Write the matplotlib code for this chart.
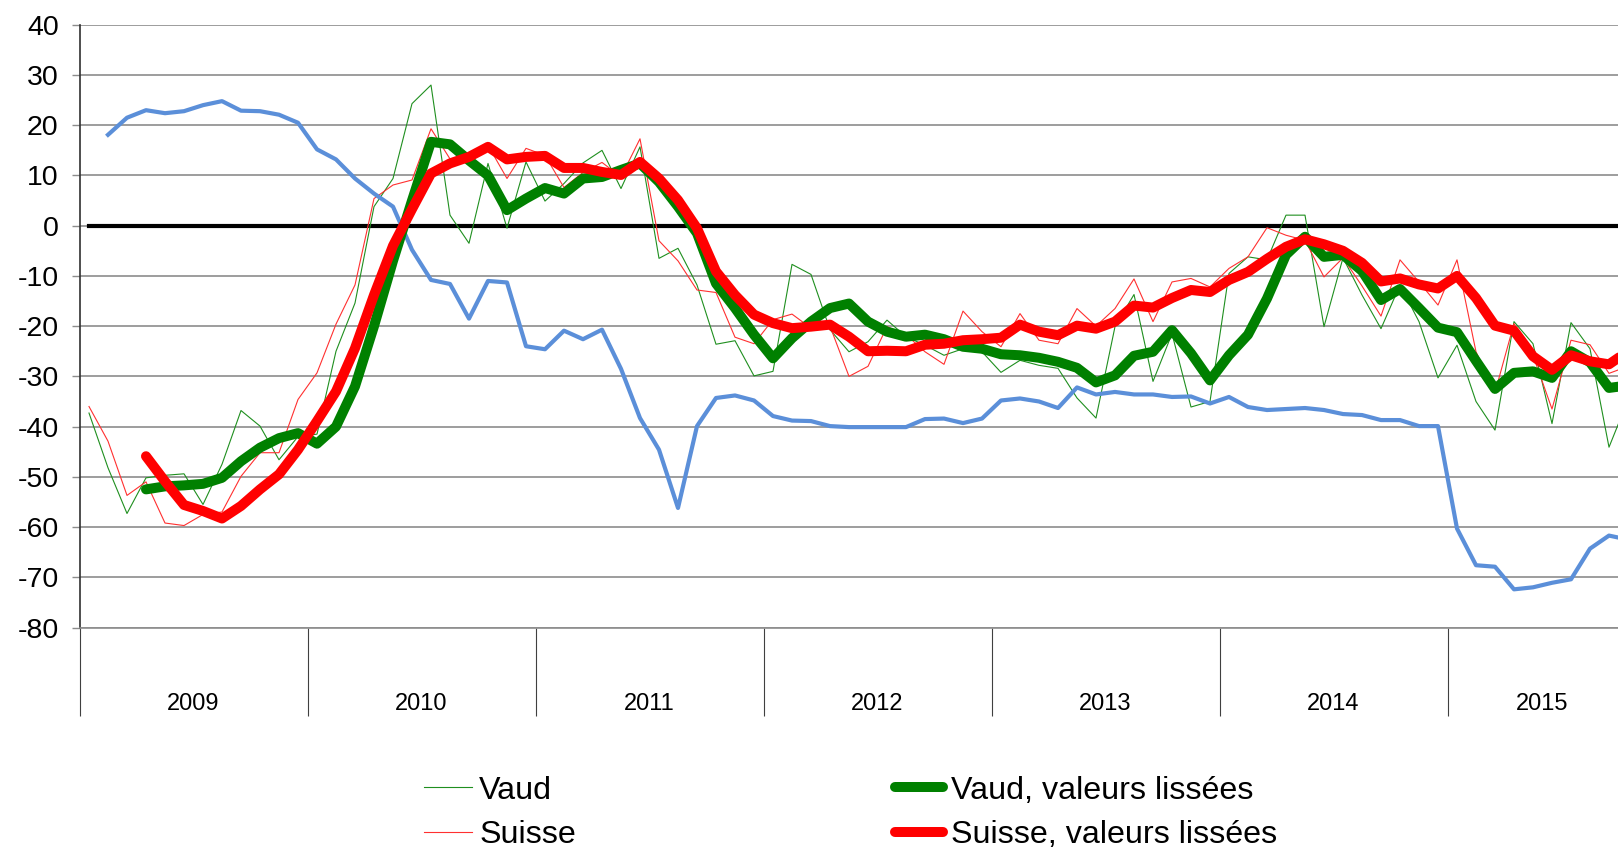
import numpy as np
import matplotlib
matplotlib.use("Agg")
import matplotlib.pyplot as plt

plt.rcParams['font.family'] = ['Liberation Sans', 'DejaVu Sans']
plt.rcParams['axes.unicode_minus'] = False

nan = np.nan

# monthly categories, Jan 2009 .. Oct 2015
years = ['2009', '2010', '2011', '2012', '2013', '2014', '2015']
months_per_year = [12, 12, 12, 12, 12, 12, 10]
months = np.arange(sum(months_per_year))

vaud = [-37.3, -48.2, -57.3, -50.2, -49.7, -49.4, -55.5, -47.5, -36.8, -39.9,
        -46.6, -42.0, -41.5, -25.0, -15.4, 3.8, 9.4, 24.3, 28.0, 2.1,
        -3.5, 12.4, -0.5, 12.7, 4.9, 8.4, 12.5, 15.0, 7.4, 15.7,
        -6.5, -4.5, -11.8, -23.6, -22.9, -29.9, -29.0, -7.7, -9.7, -20.7,
        -25.1, -23.1, -18.8, -22.1, -23.8, -25.8, -24.5, -25.1, -29.2, -26.8,
        -27.8, -28.4, -34.3, -38.3, -20.1, -13.7, -31.0, -21.5, -36.1, -35.0,
        -9.5, -6.2, -6.8, 2.1, 2.1, -20.1, -6.4, -13.8, -20.5, -11.8,
        -19.1, -30.3, -23.8, -35.0, -40.7, -19.1, -23.5, -39.4, -19.3, -24.5,
        -44.1, -34.7]

suisse = [-36.0, -42.9, -53.7, -51.0, -59.2, -59.7, -57.5, -57.0, -49.9, -45.2,
          -45.2, -34.6, -29.3, -19.6, -11.8, 5.4, 8.1, 9.1, 19.3, 13.3,
          14.0, 16.0, 9.4, 15.4, 14.0, 7.6, 10.6, 12.6, 9.7, 17.3,
          -3.0, -7.0, -12.8, -13.3, -22.2, -23.5, -18.7, -17.6, -20.4, -20.0,
          -30.0, -28.0, -20.1, -21.7, -25.1, -27.6, -17.0, -21.1, -24.1, -17.5,
          -22.8, -23.5, -16.5, -20.0, -16.5, -10.6, -19.1, -11.2, -10.5, -12.2,
          -8.5, -6.2, -0.4, -1.9, -2.9, -10.2, -6.4, -12.0, -18.0, -6.8,
          -11.2, -15.8, -6.8, -25.1, -33.2, -19.5, -25.8, -36.5, -22.8, -23.7,
          -29.4, -28.0]

vaud_lisse = [nan, nan, nan, -52.5, -51.9, -51.7, -51.4, -50.2, -46.9, -44.2,
              -42.3, -41.3, -43.4, -40.0, -32.0, -20.0, -7.0, 5.0, 16.7, 16.2,
              13.0, 10.0, 3.1, 5.4, 7.5, 6.4, 9.4, 9.7, 11.1, 12.4,
              8.7, 3.8, -1.5, -11.5, -16.4, -21.7, -26.4, -22.4, -19.1, -16.4,
              -15.5, -19.1, -21.1, -22.1, -21.7, -22.6, -24.1, -24.5, -25.6, -25.8,
              -26.3, -27.1, -28.3, -31.2, -29.8, -25.9, -25.1, -20.8, -25.4, -30.8,
              -25.8, -21.7, -14.5, -5.8, -2.2, -6.2, -5.8, -9.0, -14.8, -12.6,
              -16.4, -20.3, -21.2, -26.9, -32.5, -29.3, -29.0, -30.3, -25.0, -27.2,
              -32.3, -31.8]

suisse_lisse = [nan, nan, nan, -45.9, -50.9, -55.6, -56.8, -58.3, -55.8, -52.5,
                -49.5, -44.6, -38.9, -33.0, -24.4, -13.8, -4.0, 3.3, 10.4, 12.4,
                13.7, 15.7, 13.2, 13.7, 13.9, 11.5, 11.5, 10.7, 10.1, 12.7,
                9.4, 5.1, -0.5, -9.1, -13.8, -17.7, -19.4, -20.4, -20.1, -19.7,
                -22.1, -25.0, -24.9, -25.0, -23.7, -23.5, -22.8, -22.6, -22.3, -19.7,
                -21.1, -21.8, -19.9, -20.5, -19.1, -15.9, -16.3, -14.4, -12.8, -13.2,
                -10.8, -9.2, -6.6, -4.2, -2.7, -3.7, -5.0, -7.4, -11.1, -10.5,
                -11.7, -12.5, -10.0, -14.4, -19.9, -20.9, -26.0, -28.7, -25.8, -27.0,
                -27.6, -25.0]

# blue series (no legend entry visible)
blue = [nan, 18.1, 21.5, 23.0, 22.4, 22.8, 24.0, 24.8, 22.9, 22.8,
        22.1, 20.5, 15.2, 13.2, 9.4, 6.4, 3.8, -4.8, -10.8, -11.6,
        -18.5, -11.0, -11.3, -24.0, -24.6, -20.9, -22.6, -20.7, -28.5, -38.3,
        -44.6, -56.2, -39.9, -34.3, -33.8, -34.8, -37.9, -38.8, -38.9, -39.9,
        -40.1, -40.1, -40.1, -40.1, -38.5, -38.4, -39.3, -38.4, -34.8, -34.4,
        -35.0, -36.3, -32.2, -33.6, -33.1, -33.6, -33.6, -34.1, -34.0, -35.4,
        -34.1, -36.1, -36.7, -36.5, -36.3, -36.7, -37.5, -37.7, -38.7, -38.7,
        -39.9, -39.9, -60.3, -67.6, -67.9, -72.4, -72.0, -71.1, -70.4, -64.3,
        -61.7, -62.5]

zero_ref = np.zeros(len(months))

fig = plt.figure(figsize=(16.18, 8.48), dpi=100)
# axes runs a little past the right edge, as in the cropped original
ax = fig.add_axes([79.5 / 1618, 1 - 627.5 / 848, 1558 / 1618, 602.7 / 848])

ax.plot(months, zero_ref, color='black', lw=3, zorder=2)
ax.plot(months, vaud, color='#1f8f1f', lw=0.8, label='Vaud', zorder=3)
ax.plot(months, suisse, color='#ff3030', lw=0.8, label='Suisse', zorder=3)
ax.plot(months, blue, color='#5b8fd9', lw=3, zorder=4)
ax.plot(months, vaud_lisse, color='#008000', lw=7.2, label='Vaud, valeurs lissées',
        solid_capstyle='round', solid_joinstyle='round', zorder=5)
ax.plot(months, suisse_lisse, color='#ff0000', lw=7.2, label='Suisse, valeurs lissées',
        solid_capstyle='round', solid_joinstyle='round', zorder=6)

ax.set_xlim(-0.5, len(months) - 0.5)
ax.set_ylim(-80, 40)
ax.set_yticks(np.arange(-80, 41, 10))
ax.yaxis.grid(True, color='#8c8c8c', lw=1.2)
ax.set_axisbelow(True)

for s in ['top', 'right']:
    ax.spines[s].set_visible(False)
ax.spines['left'].set_color('#303030')
ax.spines['left'].set_linewidth(1.2)
ax.spines['bottom'].set_color('#8c8c8c')
ax.spines['bottom'].set_linewidth(1.2)

ax.tick_params(axis='y', length=6, width=1, color='#8c8c8c', pad=9, labelsize=20.5)

# year groups: separators as long major ticks, names on minor ticks
bounds = np.concatenate([[0], np.cumsum(months_per_year)]) - 0.5
centers = (bounds[:-1] + bounds[1:]) / 2
ax.set_xticks(bounds[:-1])
ax.set_xticklabels([])
ax.set_xticks(centers, minor=True)
ax.set_xticklabels(years, minor=True)
ax.tick_params(axis='x', which='major', length=63, width=0.8, color='#404040')
ax.tick_params(axis='x', which='minor', length=0, pad=47, labelsize=17)

fig.legend(loc='center left', bbox_to_anchor=(423.5 / 1618, 1 - 813 / 848),
           ncol=2, frameon=False, fontsize=23.2, borderpad=0, borderaxespad=0,
           handlelength=1.49, handletextpad=0.24, columnspacing=9.9,
           labelspacing=0.45)

fig.savefig('out.png', dpi=100)
